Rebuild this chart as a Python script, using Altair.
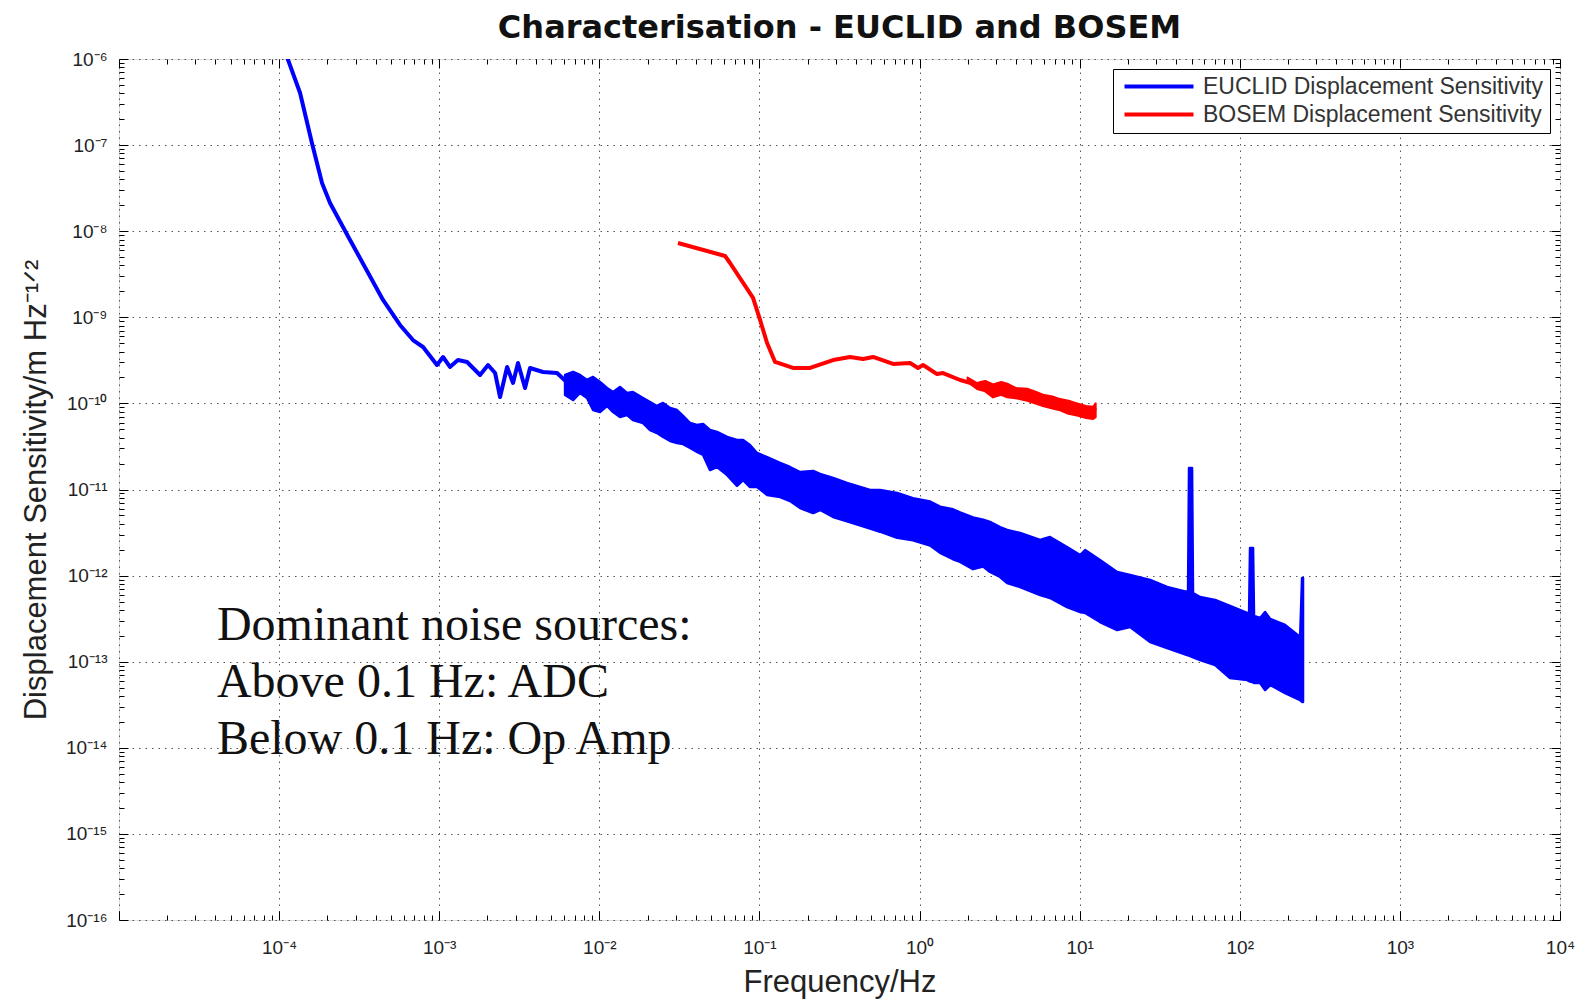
import altair as alt
import pandas as pd

# ---------------- data (log10 values) ----------------
# EUCLID displacement sensitivity, low-frequency part (single trace)
euclid_log_f = [-3.950, -3.869, -3.795, -3.732, -3.682, -3.557, -3.351, -3.245,
                -3.164, -3.101, -3.014, -2.976, -2.933, -2.883, -2.826, -2.745,
                -2.695, -2.651, -2.620, -2.576, -2.539, -2.508, -2.464, -2.433,
                -2.352, -2.264, -2.194]
euclid_log_asd = [-5.98, -6.395, -6.976, -7.440, -7.672, -8.102, -8.799, -9.089,
                  -9.264, -9.345, -9.554, -9.461, -9.577, -9.496, -9.519, -9.670,
                  -9.554, -9.647, -9.926, -9.577, -9.763, -9.531, -9.821, -9.589,
                  -9.635, -9.647, -9.770]

# EUCLID broadband noise: upper / lower envelope of the noisy trace (incl. mains spikes)
band_log_f = [-2.214, -2.164, -2.121, -2.077, -2.039, -1.996, -1.952, -1.914, -1.871, -1.827,
              -1.790, -1.727, -1.683, -1.640, -1.602, -1.558, -1.515, -1.477, -1.433, -1.390,
              -1.352, -1.309, -1.265, -1.202, -1.140, -1.102, -1.059, -1.015, -0.952, -0.871,
              -0.809, -0.746, -0.665, -0.621, -0.540, -0.453, -0.309, -0.247, -0.140, -0.041,
              0.066, 0.128, 0.209, 0.253, 0.334, 0.397, 0.440, 0.503, 0.547, 0.628,
              0.753, 0.815, 0.921, 1.003, 1.034, 1.127, 1.234, 1.315, 1.440, 1.546,
              1.671, 1.677, 1.683, 1.702, 1.708, 1.752, 1.846, 1.939, 2.046, 2.058,
              2.064, 2.083, 2.089, 2.127, 2.158, 2.190, 2.283, 2.377, 2.389, 2.395]
band_log_hi = [-9.670, -9.635, -9.670, -9.728, -9.693, -9.751, -9.821, -9.868, -9.810, -9.879,
               -9.868, -9.937, -9.984, -10.030, -9.995, -10.053, -10.077, -10.146, -10.228, -10.251,
               -10.239, -10.309, -10.332, -10.390, -10.425, -10.425, -10.483, -10.576, -10.623, -10.692,
               -10.739, -10.797, -10.785, -10.820, -10.866, -10.925, -11.006, -11.006, -11.041, -11.100,
               -11.140, -11.200, -11.230, -11.265, -11.325, -11.350, -11.377, -11.436, -11.470, -11.505,
               -11.587, -11.552, -11.668, -11.761, -11.703, -11.819, -11.958, -11.993, -12.051, -12.132,
               -12.190, -12.167, -10.750, -10.750, -12.202, -12.249, -12.283, -12.353, -12.434, -12.446,
               -11.679, -11.679, -12.469, -12.492, -12.423, -12.504, -12.574, -12.713, -12.028, -12.028]
band_log_lo = [-9.902, -9.961, -9.879, -9.937, -10.077, -10.100, -10.030, -10.100, -10.158, -10.135,
               -10.193, -10.228, -10.309, -10.344, -10.390, -10.437, -10.460, -10.472, -10.518, -10.564,
               -10.599, -10.774, -10.739, -10.832, -10.959, -10.890, -10.971, -10.971, -11.064, -11.087,
               -11.134, -11.215, -11.273, -11.238, -11.319, -11.370, -11.455, -11.490, -11.560, -11.590,
               -11.650, -11.735, -11.810, -11.840, -11.925, -11.895, -11.958, -12.016, -12.086, -12.132,
               -12.225, -12.260, -12.365, -12.423, -12.434, -12.539, -12.632, -12.597, -12.771, -12.841,
               -12.922, -12.925, -12.930, -12.945, -12.950, -12.980, -13.038, -13.189, -13.213, -13.225,
               -13.230, -13.240, -13.247, -13.247, -13.329, -13.271, -13.364, -13.445, -13.468, -13.468]

# BOSEM displacement sensitivity (Hz, m/sqrt(Hz))
bosem_f = [3.10e-2, 6.10e-2, 6.55e-2, 9.12e-2, 0.1009, 0.1116, 0.1252, 0.1622,
           0.2071, 0.2883, 0.3681, 0.4437, 0.5124, 0.6831, 0.8724, 0.9786,
           1.052, 1.286, 1.402, 1.791, 2.287, 2.457, 2.878, 3.520,
           3.837, 4.694, 5.906, 7.54, 9.63, 12.13, 12.48]
bosem_asd = [7.29e-9, 5.15e-9, 4.27e-9, 1.68e-9, 9.31e-10, 5.03e-10, 3.03e-10, 2.58e-10,
             2.58e-10, 3.19e-10, 3.46e-10, 3.28e-10, 3.46e-10, 2.87e-10, 2.94e-10, 2.58e-10,
             2.79e-10, 2.19e-10, 2.25e-10, 1.87e-10, 1.64e-10, 1.73e-10, 1.25e-10, 1.64e-10,
             1.32e-10, 1.25e-10, 1.04e-10, 1.01e-10, 8.38e-11, 7.74e-11, 8.85e-11]
# BOSEM noisy tail: spread of the trace above ~2 Hz (log10 values)
bosem_tail_log_f = [0.300, 0.359, 0.410, 0.459, 0.510, 0.547, 0.600, 0.672, 0.720,
                    0.771, 0.830, 0.878, 0.930, 0.984, 1.040, 1.084, 1.100]
bosem_tail_log_hi = [-9.70, -9.763, -9.74, -9.78, -9.75, -9.77, -9.82, -9.83, -9.86,
                     -9.90, -9.92, -9.95, -9.97, -10.00, -10.03, -10.04, -10.00]
bosem_tail_log_lo = [-9.75, -9.833, -9.86, -9.93, -9.90, -9.93, -9.94, -9.97, -10.00,
                     -10.03, -10.06, -10.08, -10.12, -10.14, -10.17, -10.18, -10.16]

series_names = ["EUCLID Displacement Sensitivity", "BOSEM Displacement Sensitivity"]
series_colors = ["#0000ff", "#ff0000"]

annotation = "Dominant noise sources:\nAbove 0.1 Hz: ADC\nBelow 0.1 Hz: Op Amp"
annotation_pos = (4.09e-5, 1.79e-13)

x_label_exps = list(range(-4, 5))      # labelled decades on x (10^-5 corner left blank)
y_label_exps = list(range(-16, -5))    # labelled decades on y
x_dec = list(range(-5, 5))
y_dec = list(range(-16, -5))

# ---------------- helpers ----------------
SUP = {"-": "\u207b", "0": "\u2070", "1": "\u00b9", "2": "\u00b2", "3": "\u00b3",
       "4": "\u2074", "5": "\u2075", "6": "\u2076", "7": "\u2077", "8": "\u2078", "9": "\u2079"}


def sup(n):
    return "".join(SUP[c] for c in str(n))


def label_expr(exps):
    e = "round(log(datum.value)/LN10)"
    parts = [f"{e} == {k} ? '10{sup(k)}'" for k in exps]
    return " : ".join(parts) + " : ''"


def minor_values(e0, e1):
    vals = []
    for e in range(e0, e1):
        for k in range(1, 10):
            vals.append(k * 10.0 ** e)
    vals.append(10.0 ** e1)
    return vals


def p10(vals):
    return [10.0 ** v for v in vals]


x_minor = minor_values(-5, 4)
y_minor = minor_values(-16, -6)
x_major = [10.0 ** e for e in x_dec]
y_major = [10.0 ** e for e in y_dec]

W, H = 1441, 861
FONT = "Liberation Sans"
MAJOR_TEST = "abs(log(datum.value)/LN10 - round(log(datum.value)/LN10)) < 0.001"
tick_size = {"condition": {"test": MAJOR_TEST, "value": 9}, "value": 5}

xscale = alt.Scale(type="log", domain=[1e-5, 1e4], nice=False)
yscale = alt.Scale(type="log", domain=[1e-16, 1e-6], nice=False)

grid_kw = dict(grid=True, gridDash=[1.5, 5], gridColor="#444", gridWidth=1, gridOpacity=0.9)

# ---------------- layer A: noise band with labelled axes + grid ----------------
band_df = pd.DataFrame({"f": p10(band_log_f), "hi": p10(band_log_hi), "lo": p10(band_log_lo)})
xa = alt.Axis(orient="bottom", values=x_major, labelExpr=label_expr(x_label_exps),
              labelFont=FONT, labelFontSize=19, labelColor="#222", labelPadding=18,
              labelFlush=False, labelOverlap=False, ticks=False, domain=False,
              title="Frequency/Hz", titleFont=FONT, titleFontSize=31, titleFontWeight="normal",
              titleColor="#222", titleY=62, titleBaseline="middle", **grid_kw)
ya = alt.Axis(orient="left", values=y_major, labelExpr=label_expr(y_label_exps),
              labelFont=FONT, labelFontSize=19, labelColor="#222", labelPadding=12,
              labelFlush=False, labelOverlap=False, ticks=False, domain=False,
              title="Displacement Sensitivity/m Hz\u207b\u00b9\u141f\u00b2", titleFont=FONT,
              titleFontSize=31, titleFontWeight="normal", titleColor="#222",
              titleX=-83, titleBaseline="middle", **grid_kw)
band = alt.Chart(band_df).mark_area(color="#0000ff", stroke="#0000ff", strokeWidth=2.5,
                                    strokeJoin="round", opacity=1, clip=True).encode(
    x=alt.X("f:Q", scale=xscale, axis=xa),
    y=alt.Y("hi:Q", scale=yscale, axis=ya),
    y2="lo:Q",
)

# ---------------- layer B: traces, with inward ticks at bottom / left ----------------
lines_df = pd.concat([
    pd.DataFrame({"f": p10(euclid_log_f), "v": p10(euclid_log_asd), "series": series_names[0]}),
    pd.DataFrame({"f": bosem_f, "v": bosem_asd, "series": series_names[1]}),
])
xb = alt.Axis(orient="top", offset=-H, values=x_minor, labels=False, grid=False, domain=False,
              ticks=True, tickColor="black", tickSize=tick_size, title=None)
yb = alt.Axis(orient="right", offset=-W, values=y_minor, labels=False, grid=False, domain=False,
              ticks=True, tickColor="black", tickSize=tick_size, title=None)
lines = alt.Chart(lines_df).mark_line(strokeWidth=4, strokeJoin="round", clip=True).encode(
    x=alt.X("f:Q", scale=xscale, axis=xb),
    y=alt.Y("v:Q", scale=yscale, axis=yb),
    color=alt.Color("series:N", sort=series_names,
                    scale=alt.Scale(domain=series_names, range=series_colors),
                    legend=alt.Legend(title=None, orient="top-right", offset=10,
                                      strokeColor="black", fillColor="white", padding=6,
                                      symbolType="M-1,0H10.5", symbolSize=144,
                                      symbolStrokeWidth=4, labelOffset=61, labelLimit=500,
                                      labelFont=FONT, labelFontSize=23, labelColor="#333",
                                      rowPadding=4)),
)

# BOSEM noisy tail spread (no axes of its own)
tail_df = pd.DataFrame({"f": p10(bosem_tail_log_f), "hi": p10(bosem_tail_log_hi),
                        "lo": p10(bosem_tail_log_lo)})
tail = alt.Chart(tail_df).mark_area(color="#ff0000", stroke="#ff0000", strokeWidth=2,
                                    strokeJoin="round", opacity=1, clip=True).encode(
    x=alt.X("f:Q", scale=xscale, axis=None),
    y=alt.Y("hi:Q", scale=yscale, axis=None),
    y2="lo:Q",
)

# ---------------- layer C: annotation, with inward ticks at top / right ----------------
ann_df = pd.DataFrame({"f": [annotation_pos[0]], "v": [annotation_pos[1]], "t": [annotation]})
xc = alt.Axis(orient="bottom", offset=-H, values=x_minor, labels=False, grid=False, domain=False,
              ticks=True, tickColor="black", tickSize=tick_size, title=None)
yc = alt.Axis(orient="left", offset=-W, values=y_minor, labels=False, grid=False, domain=False,
              ticks=True, tickColor="black", tickSize=tick_size, title=None)
ann = alt.Chart(ann_df).mark_text(align="left", baseline="alphabetic", font="Liberation Serif",
                                  fontSize=48, lineHeight=57, lineBreak="\n",
                                  color="#111").encode(
    x=alt.X("f:Q", scale=xscale, axis=xc),
    y=alt.Y("v:Q", scale=yscale, axis=yc),
    text="t:N",
)

chart = alt.layer(band, tail, lines, ann).resolve_axis(
    x="independent", y="independent"
).properties(
    width=W, height=H,
    title=alt.TitleParams("Characterisation - EUCLID and BOSEM", font="DejaVu Sans", fontSize=32,
                          fontWeight="bold", color="#111", anchor="middle", offset=5),
    autosize=alt.AutoSizeParams(type="none"),
    padding={"left": 111, "top": 51, "right": 16, "bottom": 80},
).configure_view(stroke="black", strokeWidth=1.5).configure(background="white")

chart.save("out.html", embed_options={"renderer": "svg", "actions": False})
